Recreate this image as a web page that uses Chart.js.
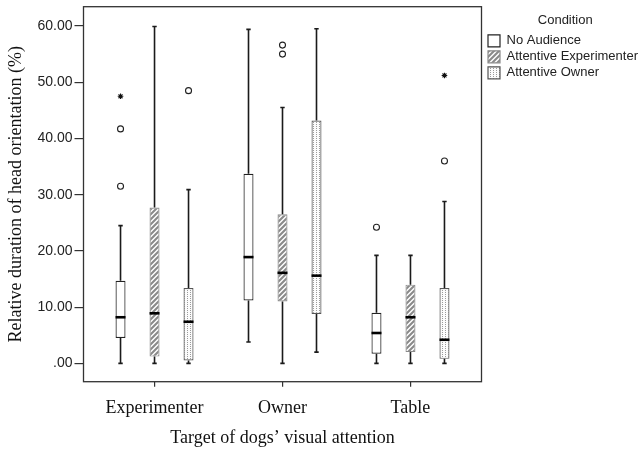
<!DOCTYPE html>
<html>
<head>
<meta charset="utf-8">
<script src="https://cdn.jsdelivr.net/npm/chart.js@4.4.1/dist/chart.umd.min.js"></script>
<style>
  html, body { margin: 0; padding: 0; background: #fff; }
</style>
</head>
<body>
<canvas id="chart" width="640" height="450"></canvas>
<script>
// ===== Data =====
const categories = ['Experimenter', 'Owner', 'Table'];
const conditions = ['No Audience', 'Attentive Experimenter', 'Attentive Owner'];
const yTicks = [0, 10, 20, 30, 40, 50, 60];

// No Audience
const naMin      = [0,    3.8,  0];
const naQ1       = [4.5,  11.2, 1.7];
const naMedian   = [8.2,  18.9, 5.4];
const naQ3       = [14.7, 33.7, 9.0];
const naMax      = [24.5, 59.4, 19.2];
const naOutliers = [[31.5, 41.7], [], [24.2]];
const naExtremes = [[47.5], [], []];

// Attentive Experimenter
const aeMin      = [0,    0,    0];
const aeQ1       = [1.2,  11.0, 2.0];
const aeMedian   = [8.9,  16.1, 8.2];
const aeQ3       = [27.7, 26.5, 14.0];
const aeMax      = [59.9, 45.5, 19.2];
const aeOutliers = [[], [56.6, 55.0], []];
const aeExtremes = [[], [], []];

// Attentive Owner
const aoMin      = [0,    2.0,  0];
const aoQ1       = [0.5,  8.8,  0.8];
const aoMedian   = [7.4,  15.6, 4.2];
const aoQ3       = [13.4, 43.2, 13.4];
const aoMax      = [30.9, 59.5, 28.8];
const aoOutliers = [[48.5], [], [36.0]];
const aoExtremes = [[], [], [51.2]];

const SANS = "'Liberation Sans', Arial, sans-serif";
const SERIF = "'Liberation Serif', 'Times New Roman', serif";

// ===== Fill patterns =====
function hatchPattern() {
    const s = 5;
    const c = document.createElement('canvas');
    c.width = s; c.height = s;
    const g = c.getContext('2d');
    g.fillStyle = '#ffffff';
    g.fillRect(0, 0, s, s);
    g.strokeStyle = '#8a8a8a';
    g.lineWidth = 2.1;
    g.beginPath();
    g.moveTo(0, s); g.lineTo(s, 0);
    g.moveTo(-1, 1); g.lineTo(1, -1);
    g.moveTo(s - 1, s + 1); g.lineTo(s + 1, s - 1);
    g.stroke();
    return document.getElementById('chart').getContext('2d').createPattern(c, 'repeat');
}

function dotPattern() {
    const c = document.createElement('canvas');
    c.width = 3; c.height = 2;
    const g = c.getContext('2d');
    g.fillStyle = '#fbfbfb';
    g.fillRect(0, 0, 3, 2);
    g.fillStyle = '#9a9a9a';
    g.fillRect(1, 0, 1, 1);
    return document.getElementById('chart').getContext('2d').createPattern(c, 'repeat');
}

function boxDataset(label, fill, border, min, q1, median, q3, max, outliers, extremes) {
    return {
        label: label,
        data: categories.map((c, i) => ({ x: i, y: [q1[i], q3[i]] })),
        backgroundColor: fill,
        borderColor: border,
        borderWidth: 1.2,
        borderSkipped: false,
        categoryPercentage: 0.797,
        barPercentage: 0.294,
        stats: { min, median, max, outliers, extremes }
    };
}

// ===== Whiskers, medians, outliers and frame =====
const boxPlotPlugin = {
    id: 'boxPlot',
    afterLayout(chart) {
        // nudge the legend a little away from the frame
        chart.legend.left += 3.5;
        chart.legend.right += 3.5;
    },
    afterDatasetsDraw(chart) {
        const ctx = chart.ctx;
        const y = chart.scales.y;
        const area = chart.chartArea;
        ctx.save();
        chart.data.datasets.forEach((ds, di) => {
            const meta = chart.getDatasetMeta(di);
            const st = ds.stats;
            meta.data.forEach((bar, i) => {
                const x = bar.x;
                const w = bar.width;
                const q1 = ds.data[i].y[0], q3 = ds.data[i].y[1];
                ctx.strokeStyle = '#1a1a1a';
                ctx.lineWidth = 1.6;
                ctx.beginPath();
                ctx.moveTo(x, y.getPixelForValue(q1));
                ctx.lineTo(x, y.getPixelForValue(st.min[i]));
                ctx.moveTo(x - 2.2, y.getPixelForValue(st.min[i]));
                ctx.lineTo(x + 2.2, y.getPixelForValue(st.min[i]));
                ctx.moveTo(x, y.getPixelForValue(q3));
                ctx.lineTo(x, y.getPixelForValue(st.max[i]));
                ctx.moveTo(x - 2.2, y.getPixelForValue(st.max[i]));
                ctx.lineTo(x + 2.2, y.getPixelForValue(st.max[i]));
                ctx.stroke();

                ctx.strokeStyle = '#000';
                ctx.lineWidth = 2.6;
                ctx.beginPath();
                ctx.moveTo(x - w / 2, y.getPixelForValue(st.median[i]));
                ctx.lineTo(x + w / 2, y.getPixelForValue(st.median[i]));
                ctx.stroke();

                ctx.fillStyle = '#fff';
                ctx.strokeStyle = '#222';
                ctx.lineWidth = 1.1;
                st.outliers[i].forEach(v => {
                    Chart.helpers.drawPoint(ctx, { pointStyle: 'circle', radius: 3, rotation: 0, borderWidth: 1.1 }, x, y.getPixelForValue(v));
                });
                ctx.strokeStyle = '#111';
                st.extremes[i].forEach(v => {
                    Chart.helpers.drawPoint(ctx, { pointStyle: 'star', radius: 2.8, rotation: 0, borderWidth: 1.1 }, x, y.getPixelForValue(v));
                });
            });
        });
        ctx.strokeStyle = '#333';
        ctx.lineWidth = 1.3;
        ctx.strokeRect(area.left, area.top, area.right - area.left, area.bottom - area.top);
        ctx.restore();
    }
};

const datasets = [
    boxDataset(conditions[0], '#ffffff', '#222222', naMin, naQ1, naMedian, naQ3, naMax, naOutliers, naExtremes),
    boxDataset(conditions[1], hatchPattern(), '#8a8a8a', aeMin, aeQ1, aeMedian, aeQ3, aeMax, aeOutliers, aeExtremes),
    boxDataset(conditions[2], dotPattern(), '#555555', aoMin, aoQ1, aoMedian, aoQ3, aoMax, aoOutliers, aoExtremes)
];

new Chart(document.getElementById('chart'), {
    type: 'bar',
    data: { datasets: datasets },
    options: {
        responsive: false,
        animation: false,
        layout: { padding: { top: 6.7, left: 0, right: -2, bottom: 0 } },
        plugins: {
            tooltip: { enabled: false },
            legend: {
                position: 'right',
                align: 'start',
                title: {
                    display: true,
                    text: 'Condition',
                    color: '#222',
                    font: { family: SANS, size: 13 },
                    padding: { top: 7, bottom: 2 }
                },
                labels: {
                    color: '#222',
                    font: { family: SANS, size: 13 },
                    boxWidth: 12,
                    boxHeight: 12,
                    padding: 3
                }
            }
        },
        scales: {
            x: {
                type: 'linear',
                min: -0.555,
                max: 2.555,
                offset: false,
                afterBuildTicks: s => { s.ticks = categories.map((c, i) => ({ value: i })); },
                afterFit: s => { s.height = 68.3; s.paddingLeft = 0; s.paddingRight = 0; },
                border: { display: false },
                grid: { display: true, drawOnChartArea: false, offset: false, tickLength: 5, color: '#333', lineWidth: 1.2 },
                ticks: {
                    color: '#111',
                    font: { family: SERIF, size: 18 },
                    padding: 11,
                    autoSkip: false,
                    maxRotation: 0,
                    callback: v => categories[v]
                },
                title: {
                    display: true,
                    text: 'Target of dogs’ visual attention',
                    color: '#111',
                    font: { family: SERIF, size: 18 },
                    padding: { top: 0, bottom: 1 }
                }
            },
            y: {
                min: -3.26,
                max: 63.43,
                afterBuildTicks: s => { s.ticks = yTicks.map(v => ({ value: v })); },
                afterFit: s => { s.width = 83.5; s.paddingTop = 0; s.paddingBottom = 0; },
                border: { display: false },
                grid: { display: true, drawOnChartArea: false, tickLength: 9, color: '#333', lineWidth: 1.2 },
                ticks: {
                    color: '#222',
                    font: { family: SANS, size: 14 },
                    padding: 2,
                    callback: v => v === 0 ? '.00' : v.toFixed(2)
                },
                title: {
                    display: true,
                    text: 'Relative duration of head orientation (%)',
                    color: '#111',
                    font: { family: SERIF, size: 18 },
                    padding: { top: 5, bottom: 0 }
                }
            }
        }
    },
    plugins: [boxPlotPlugin]
});
</script>
</body>
</html>
